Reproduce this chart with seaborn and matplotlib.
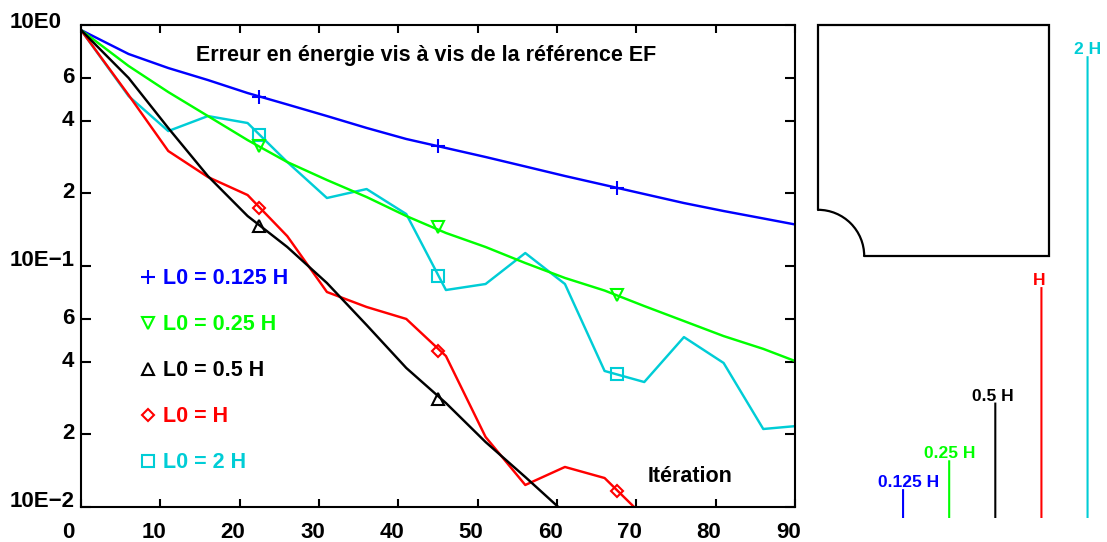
"""Erreur en énergie vs itération, with the plate sketch and the L0 scale bars."""
import matplotlib
matplotlib.use("Agg")
import matplotlib.pyplot as plt
import numpy as np
import pandas as pd
import seaborn as sns
from matplotlib.lines import Line2D
from matplotlib.patches import Arc
from matplotlib.ticker import NullLocator
from matplotlib.transforms import ScaledTranslation

# ── Data ──────────────────────────────────────────────────────────────────────
ITER = [0, 6, 11, 16, 21, 26, 31, 36, 41, 46, 51, 56, 61, 66, 71, 76, 81, 86, 91]

ERR_0125 = [.953, .758, .663, .591, .522, .468, .419, .374, .3365, .3088, .2833,
            .2588, .2363, .2168, .1989, .1825, .1691, .1575, .1466]
ERR_025 = [.953, .676, .527, .419, .333, .270, .2274, .1933, .1612, .1371, .1199,
           .1029, .0892, .0791, .0682, .0591, .0512, .0453, .0392]
ERR_05 = [.953, .603, .3737, .236, .1612, .1199, .085, .0569, .03775, .027, .0186,
          .01332, .00944]
ERR_1 = [.953, .512, .300, .234, .197, .133, .0780, .0676, .0603, .0423, .01952,
         .01234, .01466, .01319, .00909]
ERR_2 = [.953, .507, .363, .419, .392, .270, .1915, .2086, .1643, .0795, .0842,
         .1132, .0842, .03668, .0330, .0507, .0396, .02107, .0218]

MARK_X = [22.45, 45.0, 67.6]
MARK_0125 = [.505, .3147, .2107]
MARK_025 = [.3147, .1451, .0758]
MARK_05 = [.1459, .02806]
MARK_1 = [.1741, .0444, .01165]
MARK_2 = [.3497, .0909, .0356]

LABELS = ["L0 = 0.125 H", "L0 = 0.25 H", "L0 = 0.5 H", "L0 = H", "L0 = 2 H"]
COLORS = ["#0000ff", "#00ff00", "#000000", "#ff0000", "#00cdd6"]
MARKERS = ["+", "v", "^", "D", "s"]
MARKER_SIZES = [9.5, 8.5, 8.5, 6, 8.5]

BAR_NAMES = ["0.125 H", "0.25 H", "0.5 H", "H", "2 H"]
BAR_HEIGHTS = [0.125, 0.25, 0.5, 1, 2]
BAR_LABEL_SHIFT = [0.13, 0.02, -0.06, -0.04, 0.0]

YTICKS = [1, .6, .4, .2, .1, .06, .04, .02, .01]
YTICK_LABELS = ["10E0", "6", "4", "2", "10E\u22121", "6", "4", "2", "10E\u22122"]
XTICKS = [0, 10, 20, 30, 40, 50, 60, 70, 80, 90]

# ── Theme ─────────────────────────────────────────────────────────────────────
sns.set_theme(style="ticks")
plt.rcParams["font.family"] = ["Liberation Sans", "DejaVu Sans"]
plt.rcParams["font.weight"] = "bold"
plt.rcParams["axes.linewidth"] = 1.5
plt.rcParams["text.color"] = "black"
plt.rcParams["xtick.labelcolor"] = "black"
plt.rcParams["ytick.labelcolor"] = "black"
plt.rcParams["xtick.color"] = "black"
plt.rcParams["ytick.color"] = "black"

W, H = 1107, 542


def px_axes(fig, left, top, right, bottom):
    """Add an axes from pixel edges measured on the reference."""
    return fig.add_axes([left / W, 1 - bottom / H, (right - left) / W, (bottom - top) / H])


fig = plt.figure(figsize=(W / 100, H / 100), dpi=100, facecolor="white")

# ── Main log plot ─────────────────────────────────────────────────────────────
ax = px_axes(fig, 81, 25, 795, 507)
series = [ERR_0125, ERR_025, ERR_05, ERR_1, ERR_2]
marks = [MARK_0125, MARK_025, MARK_05, MARK_1, MARK_2]
# cyan sits under the others, black on top of the green
for idx in [4, 0, 1, 3, 2]:
    df = pd.DataFrame({"iter": ITER[:len(series[idx])], "err": series[idx]})
    sns.lineplot(data=df, x="iter", y="err", color=COLORS[idx], linewidth=1.75,
                 estimator=None, sort=False, ax=ax)
    sns.lineplot(x=MARK_X[:len(marks[idx])], y=marks[idx], color=COLORS[idx],
                 estimator=None, sort=False, linestyle="", marker=MARKERS[idx],
                 markersize=MARKER_SIZES[idx], markerfacecolor="none",
                 markeredgecolor=COLORS[idx], markeredgewidth=1.5, ax=ax)

ax.set_yscale("log")
ax.set_xlim(0, 90)
ax.set_ylim(0.01, 1)
ax.set_xlabel("")
ax.set_ylabel("")
ax.set_xticks(XTICKS)
ax.set_xticklabels([str(v) for v in XTICKS], fontsize=16, fontweight="bold", ha="left")
ax.set_yticks(YTICKS)
ax.set_yticklabels(YTICK_LABELS, fontsize=16, fontweight="bold", ha="left")
ax.yaxis.set_minor_locator(NullLocator())
ax.tick_params(axis="x", direction="in", length=6, width=1.5, top=True, bottom=True, pad=11)
ax.tick_params(axis="y", direction="in", length=7.5, width=1.5, left=True, right=True, pad=0)
for spine in ax.spines.values():
    spine.set_visible(True)
    spine.set_color("black")

# tick labels in the original are not centred on their ticks
for lab in ax.get_xticklabels():
    lab.set_transform(lab.get_transform() + ScaledTranslation(-0.19, 0, fig.dpi_scale_trans))
for lab, txt in zip(ax.get_yticklabels(), YTICK_LABELS):
    if txt == "10E0":
        dx, dy = -0.71, 0.05
    elif txt.startswith("10E"):
        dx, dy = -0.71, 0.08
    else:
        dx, dy = -0.19, 0.03
    lab.set_transform(lab.get_transform() + ScaledTranslation(dx, dy, fig.dpi_scale_trans))

ax.text(0.483, 0.9357, "Erreur en énergie vis à vis de la référence EF", transform=ax.transAxes,
        ha="center", va="center", fontsize=15.5, fontweight="bold", color="black")
ax.text(0.793, 0.0643, "Itération", transform=ax.transAxes, ha="left", va="center",
        fontsize=15.5, fontweight="bold", color="black")

handles = [Line2D([], [], linestyle="", marker=m, markersize=s, markerfacecolor="none",
                  markeredgecolor=c, markeredgewidth=1.5)
           for m, s, c in zip(MARKERS, MARKER_SIZES, COLORS)]
leg = ax.legend(handles, LABELS, loc="upper left", bbox_to_anchor=(0.0783, 0.4955), frameon=False,
                borderpad=0, borderaxespad=0, handlelength=1.0, handletextpad=0.233,
                labelspacing=1.165, prop={"family": "Liberation Sans", "weight": "bold", "size": 15.5})
for text, c in zip(leg.get_texts(), COLORS):
    text.set_color(c)

# ── Plate with the quarter-circle notch ───────────────────────────────────────
ax_plate = px_axes(fig, 818, 25, 1049, 256)
ax_plate.plot([0, 0, 5, 5, 1], [1, 5, 5, 0, 0], color="black", linewidth=1.6, clip_on=False,
              solid_joinstyle="miter")
ax_plate.add_patch(Arc((0, 0), 2, 2, theta1=0, theta2=90, color="black", linewidth=1.6, clip_on=False))
ax_plate.set_xlim(0, 5)
ax_plate.set_ylim(0, 5)
ax_plate.axis("off")

# ── L0 scale bars ─────────────────────────────────────────────────────────────
ax_bars = px_axes(fig, 880, 10, 1106, 518)
bar_df = pd.DataFrame({"name": BAR_NAMES, "height": BAR_HEIGHTS})
sns.barplot(data=bar_df, x="name", y="height", hue="name", palette=COLORS, width=0.045,
            saturation=1, legend=False, ax=ax_bars)
for patch in ax_bars.patches:
    patch.set_linewidth(0)
    patch.set_snap(False)
ax_bars.set_xlim(-0.5, 4.4)
ax_bars.set_ylim(0, 2.2)
ax_bars.axis("off")
for i, (name, height) in enumerate(zip(BAR_NAMES, BAR_HEIGHTS)):
    ax_bars.text(i + BAR_LABEL_SHIFT[i], height + 0.008, name, ha="center", va="baseline",
                 fontsize=12.5, fontweight="bold", color=COLORS[i], clip_on=False)

fig.savefig("out.png", dpi=100, facecolor="white")
